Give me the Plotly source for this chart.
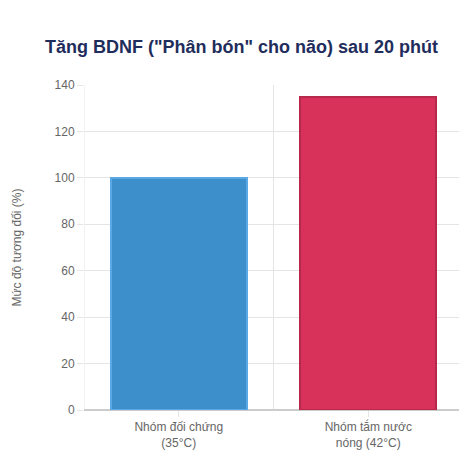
import plotly.graph_objects as go

categories = ["Nhóm đối chứng<br>(35°C)", "Nhóm tắm nước<br>nóng (42°C)"]
values = [100, 135]
colors = ["#3d8fcb", "#d9325a"]
borders = ["#5aa9e6", "#b8284a"]

fig = go.Figure(go.Bar(
    x=[0, 1], y=values, width=0.72,
    marker=dict(color=colors, line=dict(color=borders, width=2)),
))
shapes = [dict(type="line", xref="x", yref="paper", x0=v, x1=v, y0=0, y1=1,
               line=dict(color="#e5e5e5", width=1), layer="below") for v in (-0.5, 0.5, 1.5)]
fig.update_layout(
    width=467, height=455,
    margin=dict(l=76, r=12, t=77, b=53),
    paper_bgcolor="white", plot_bgcolor="white",
    title=dict(text="<b>Tăng BDNF (\"Phân bón\" cho não) sau 20 phút</b>",
               x=0.5, xanchor="center", y=0.915, yanchor="middle",
               font=dict(family="Liberation Sans, Arial", size=18, color="#1f2d5c")),
    font=dict(family="Liberation Sans, Arial", color="#666", size=12),
    shapes=shapes,
    showlegend=False,
    bargap=0,
)
fig.update_xaxes(range=[-0.5, 1.5], tickvals=[0, 1], ticktext=categories,
                 showgrid=False, zeroline=False, ticks="outside", ticklen=6,
                 tickcolor="#e5e5e5", showline=False, fixedrange=True, automargin=False)
fig.update_yaxes(range=[0, 140], dtick=20, gridcolor="#e5e5e5", zeroline=True,
                 zerolinecolor="#ccc", ticks="outside", ticklen=6, tickcolor="#e5e5e5",
                 automargin=False,
                 title=dict(text="Mức độ tương đối (%)", standoff=30,
                            font=dict(size=12, color="#666")))
fig.write_html("out.html")
